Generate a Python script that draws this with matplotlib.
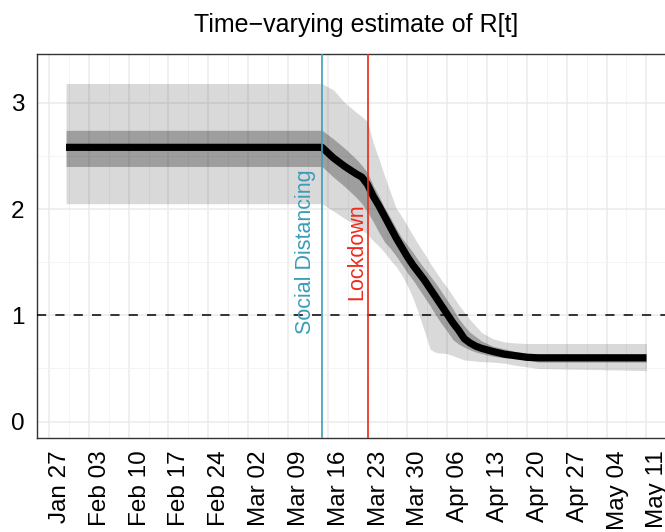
import matplotlib
matplotlib.use('Agg')
import matplotlib.pyplot as plt
import matplotlib.dates as mdates
import numpy as np
import pandas as pd

plt.rcParams['font.family'] = ['Liberation Sans', 'DejaVu Sans']

# R[t] estimate, date -> median and credible bands
dates = ['2020-01-30', '2020-03-15', '2020-03-17', '2020-03-19', '2020-03-21',
         '2020-03-22', '2020-03-23', '2020-03-24', '2020-03-25', '2020-03-26',
         '2020-03-27', '2020-03-28', '2020-03-29', '2020-03-30', '2020-03-31',
         '2020-04-01', '2020-04-02', '2020-04-03', '2020-04-04', '2020-04-05',
         '2020-04-06', '2020-04-07', '2020-04-08', '2020-04-09', '2020-04-10',
         '2020-04-11', '2020-04-12', '2020-04-14', '2020-04-16', '2020-04-18',
         '2020-04-20', '2020-04-22', '2020-05-11']
r_median = [2.58, 2.58, 2.48, 2.40, 2.33, 2.30, 2.23, 2.12, 2.03, 1.93,
            1.83, 1.73, 1.64, 1.55, 1.47, 1.40, 1.33, 1.25, 1.17, 1.09,
            1.01, 0.93, 0.86, 0.78, 0.74, 0.71, 0.69, 0.66, 0.635, 0.62,
            0.605, 0.60, 0.60]
r_hi50 = [2.74, 2.74, 2.66, 2.57, 2.47, 2.41, 2.34, 2.22, 2.12, 2.01,
          1.92, 1.82, 1.73, 1.66, 1.59, 1.51, 1.44, 1.37, 1.30, 1.22,
          1.14, 1.06, 0.97, 0.90, 0.84, 0.80, 0.76, 0.71, 0.685, 0.66,
          0.645, 0.64, 0.64]
r_lo50 = [2.40, 2.40, 2.30, 2.21, 2.11, 2.05, 1.97, 1.88, 1.78, 1.69,
          1.63, 1.56, 1.48, 1.40, 1.33, 1.25, 1.17, 1.09, 1.00, 0.92,
          0.85, 0.77, 0.73, 0.70, 0.675, 0.655, 0.64, 0.615, 0.60, 0.59,
          0.58, 0.56, 0.56]
r_hi95 = [3.18, 3.18, 3.12, 3.00, 2.91, 2.87, 2.82, 2.62, 2.47, 2.31,
          2.16, 2.01, 1.93, 1.84, 1.75, 1.66, 1.58, 1.49, 1.41, 1.33,
          1.26, 1.18, 1.10, 1.03, 0.96, 0.90, 0.84, 0.78, 0.75, 0.74,
          0.735, 0.735, 0.735]
r_lo95 = [2.05, 2.05, 1.98, 1.91, 1.85, 1.81, 1.76, 1.70, 1.65, 1.59,
          1.52, 1.46, 1.38, 1.28, 1.16, 1.01, 0.85, 0.68, 0.65, 0.645,
          0.64, 0.62, 0.60, 0.58, 0.575, 0.57, 0.565, 0.56, 0.55, 0.53,
          0.515, 0.50, 0.48]

social_distancing = '2020-03-15'
lockdown = '2020-03-23'

x = mdates.date2num(pd.to_datetime(dates))
sd = mdates.date2num(pd.to_datetime(social_distancing))
ld = mdates.date2num(pd.to_datetime(lockdown))

fig = plt.figure(figsize=(6.65, 5.32), dpi=100)
ax = fig.add_axes([37 / 665, (532 - 438) / 532, (675.4 - 37) / 665, (438 - 54) / 532])

# bands
ax.fill_between(x, r_lo95, r_hi95, color='black', alpha=0.15, lw=0, zorder=2)
ax.fill_between(x, r_lo50, r_hi50, color='black', alpha=0.27, lw=0, zorder=3)
ax.plot(x, r_median, color='black', lw=5.2, solid_joinstyle='round',
        solid_capstyle='butt', zorder=4)

ax.axhline(1, color='black', lw=1.1, dashes=(6, 6), zorder=5)
ax.axvline(sd, color='#3c9db7', lw=1.2, zorder=5)
ax.axvline(ld, color='#ee2b1d', lw=1.2, zorder=5)
ax.text(sd - 2.9, 1.6, 'Social Distancing', rotation=90, color='#3c9db7',
        fontsize=15.5, ha='center', va='center', zorder=6)
ax.text(ld - 1.9, 1.6, 'Lockdown', rotation=90, color='#ee2b1d',
        fontsize=15.5, ha='center', va='center', zorder=6)

# axes / grid like ggplot theme_bw
x0 = x[0] - 0.05 * (x[-1] - x[0])
x1 = x[-1] + 0.05 * (x[-1] - x[0])
ax.set_xlim(x0, x1)
ax.set_ylim(-0.154, 3.458)

week_days = pd.date_range('2020-01-27', '2020-05-11', freq='7D')
majors = mdates.date2num(week_days)
ax.set_xticks(majors, labels=week_days.strftime('%b %d'),
              rotation=90, ha='left', va='top')
ax.set_xticks(majors + 3.5, minor=True)
ax.set_yticks([0, 1, 2, 3])
ax.set_yticks([0.5, 1.5, 2.5], minor=True)

ax.grid(which='major', color='#ebebeb', lw=1.1)
ax.grid(which='minor', color='#f3f3f3', lw=0.6)
ax.set_axisbelow(True)

ax.tick_params(which='both', length=0)
ax.tick_params(axis='x', labelsize=17.5, pad=9)
ax.tick_params(axis='y', labelsize=17.5, pad=9)

for s in ax.spines.values():
    s.set_color('#333333')
    s.set_linewidth(1.0)

ax.set_title('Time\u2212varying estimate of R[t]', fontsize=18, pad=16)

fig.savefig('out.png', dpi=100)
